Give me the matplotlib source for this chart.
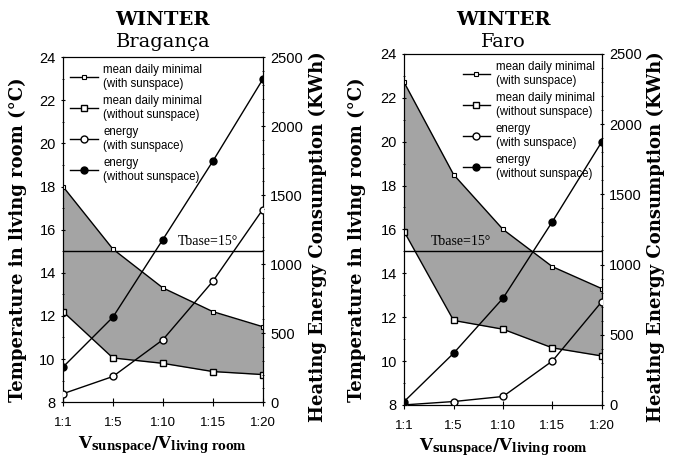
import numpy as np
import matplotlib
matplotlib.use("Agg")
import matplotlib.pyplot as plt
from matplotlib.ticker import MultipleLocator

plt.rcParams["mathtext.fontset"] = "dejavuserif"

ratios = ["1:1", "1:5", "1:10", "1:15", "1:20"]

# Bragança
brag_temp_with = [18.0, 15.1, 13.3, 12.2, 11.5]
brag_temp_without = [12.2, 10.05, 9.8, 9.42, 9.28]
brag_energy_with = [61, 186, 452, 875, 1395]
brag_energy_without = [254, 616, 1178, 1745, 2338]

# Faro
faro_temp_with = [22.7, 18.5, 16.0, 14.3, 13.3]
faro_temp_without = [15.9, 11.85, 11.45, 10.6, 10.23]
faro_energy_with = [0, 24, 60, 313, 736]
faro_energy_without = [24, 368, 760, 1306, 1875]

t_base = 15
serif = "DejaVu Serif"
sans = "Liberation Sans"

fig = plt.figure(figsize=(6.77, 4.57), dpi=100)


def panel(rect, city, t_with, t_without, e_with, e_without, leg_loc, tb_xy,
          ylab_x, ylab2_x):
    ax = fig.add_axes(rect)
    x = np.arange(len(ratios))
    ax.fill_between(x, t_without, t_with, color="#a4a4a4", lw=0, zorder=1)
    h1, = ax.plot(x, t_with, color="black", lw=1, marker="s", ms=2.5,
                  mfc="white", mec="black", mew=0.8, zorder=3)
    h2, = ax.plot(x, t_without, color="black", lw=1, marker="s", ms=5,
                  mfc="white", mec="black", mew=1, zorder=3)
    ax.axhline(t_base, color="black", lw=1, zorder=2)
    ax.set_xlim(0, 4)
    ax.set_ylim(8, 24)
    ax.yaxis.set_major_locator(MultipleLocator(2))
    ax.yaxis.set_minor_locator(MultipleLocator(1))
    ax.set_xticks(x)
    ax.set_xticklabels(ratios, fontfamily=sans, fontsize=9.5)
    ax.tick_params(axis="x", direction="inout", length=6, pad=8)
    ax.tick_params(axis="y", which="both", direction="inout", labelsize=10.5)
    for lab in ax.get_yticklabels():
        lab.set_fontfamily(sans)
    ax.set_ylabel("Temperature in living room (°C)", fontfamily=serif,
                  fontweight="bold", fontsize=13)
    ax.yaxis.set_label_coords(ylab_x, 0.47)
    ax.set_xlabel(r"V$_{\mathbf{sunspace}}$/V$_{\mathbf{living\ room}}$",
                  fontfamily=serif, fontweight="bold", fontsize=12, labelpad=3)
    ax.text(tb_xy[0], tb_xy[1], "Tbase=15°", fontfamily="Liberation Serif",
            fontsize=10, zorder=5)

    ax2 = ax.twinx()
    h3, = ax2.plot(x, e_with, color="black", lw=1, marker="o", ms=5,
                   mfc="white", mec="black", mew=1, zorder=3)
    h4, = ax2.plot(x, e_without, color="black", lw=1, marker="o", ms=5,
                   mfc="black", mec="black", zorder=3)
    ax2.set_ylim(0, 2500)
    ax2.yaxis.set_major_locator(MultipleLocator(500))
    ax2.yaxis.set_minor_locator(MultipleLocator(100))
    ax2.tick_params(axis="y", which="both", direction="inout", labelsize=10.5)
    for lab in ax2.get_yticklabels():
        lab.set_fontfamily(sans)
    ax2.set_ylabel("Heating Energy Consumption (KWh)", fontfamily=serif,
                   fontweight="bold", fontsize=13)
    ax2.yaxis.set_label_coords(ylab2_x, 0.48)

    ax2.legend([h1, h2, h3, h4],
               ["mean daily minimal\n(with sunspace)",
                "mean daily minimal\n(without sunspace)",
                "energy\n(with sunspace)",
                "energy\n(without sunspace)"],
               loc=leg_loc, frameon=False, handlelength=2.4,
               handletextpad=0.5,
               prop={"family": sans, "size": 8.3}, labelspacing=0.45,
               borderaxespad=0.2)

    cx = rect[0] + rect[2] / 2
    fig.text(cx, 0.956, "WINTER", ha="center", va="center", fontfamily=serif,
             fontweight="bold", fontsize=14)
    fig.text(cx, 0.908, city, ha="center", va="center", fontfamily=serif,
             fontsize=14)
    return ax


panel([0.093, 0.120, 0.295, 0.755], "Bragança", brag_temp_with,
      brag_temp_without, brag_energy_with, brag_energy_without,
      "upper left", (2.3, 15.3), -0.18, 1.23)
panel([0.597, 0.114, 0.292, 0.768], "Faro", faro_temp_with,
      faro_temp_without, faro_energy_with, faro_energy_without,
      "upper right", (0.53, 15.3), -0.195, 1.225)

fig.savefig("out.png", dpi=100)
